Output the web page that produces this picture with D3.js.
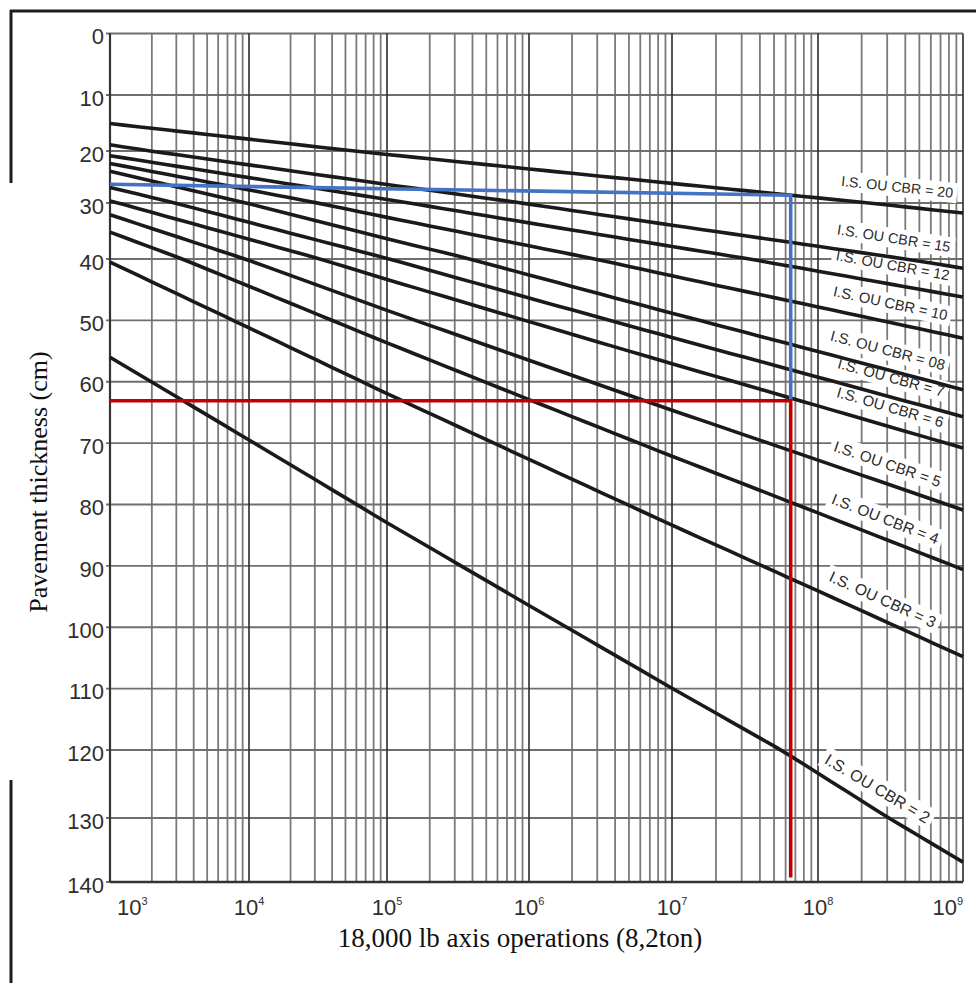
<!DOCTYPE html>
<html>
<head>
<meta charset="utf-8">
<script src="https://cdn.jsdelivr.net/npm/d3@7"></script>
<style>
  html, body { margin: 0; padding: 0; background: #fff; }
  svg { display: block; }
</style>
</head>
<body>
<svg id="chart" width="976" height="983"></svg>
<script>
// ---- data -------------------------------------------------------------
// Subgrade bearing value (I.S. / CBR) for each design curve
const cbrLabels = ["20", "15", "12", "10", "08", "7", "6", "5", "4", "3", "2"];
// Required pavement thickness (cm) at 10^3 and at 10^9 axle operations
const thicknessAtStart = [15.1, 18.9, 20.9, 22.4, 23.9, 27.0, 29.6, 32.1, 35.2, 40.5, 56.0];
const thicknessAtEnd   = [31.8, 41.5, 46.2, 52.9, 61.3, 65.7, 70.8, 80.9, 90.6, 104.8, 136.9];
const trafficDomain = [1e3, 1e9];
const xDecadeExponents = [3, 4, 5, 6, 7, 8, 9];
const yTickValues = [0, 10, 20, 30, 40, 50, 60, 70, 80, 90, 100, 110, 120, 130, 140];

// Worked example: design traffic and the two read-off thicknesses
const designTraffic = 6.5e7;
const blueReadOff = [26.4, 28.5];   // thickness at 10^3 and at design traffic
const redReadOff  = [63.1, 63.1];

// ---- layout -----------------------------------------------------------
const svg = d3.select("#chart");
const P = { left: 110, right: 963, top: 33.5, bottom: 882 };

// the printed rulings are not perfectly even; the scales follow them decade by decade
const x = d3.scaleLog()
  .domain(xDecadeExponents.map(e => Math.pow(10, e)))
  .range([P.left, 249, 387, 529, 672, 818, P.right]);
const y = d3.scaleLinear()
  .domain([0, 10, 20, 30, 40, 120, 130, 140])
  .range([P.top, 95, 151, 203, 259, 750, 818, P.bottom]);

// outer frame fragments
const frame = svg.append("g").attr("stroke", "#1e1e1e").attr("stroke-width", 3);
frame.append("line").attr("x1", 10).attr("y1", 11).attr("x2", 976).attr("y2", 11);
frame.append("line").attr("x1", 11).attr("y1", 10).attr("x2", 11).attr("y2", 183);
frame.append("line").attr("x1", 11).attr("y1", 780).attr("x2", 11).attr("y2", 983);

// ---- grid -------------------------------------------------------------
const grid = svg.append("g");
const minorVals = [];
for (let e = 3; e < 9; e++) for (let m = 2; m <= 9; m++) minorVals.push(m * Math.pow(10, e));
grid.selectAll("line.minor").data(minorVals).join("line")
  .attr("class", "minor")
  .attr("x1", d => x(d)).attr("x2", d => x(d))
  .attr("y1", P.top).attr("y2", P.bottom)
  .attr("stroke", "#7a7a7a").attr("stroke-width", 1.8);
grid.selectAll("line.hz").data(yTickValues).join("line")
  .attr("class", "hz")
  .attr("x1", P.left - 4).attr("x2", P.right)
  .attr("y1", d => y(d)).attr("y2", d => y(d))
  .attr("stroke", "#6f6f6f").attr("stroke-width", 1.8);
grid.selectAll("line.major").data(xDecadeExponents.map(e => Math.pow(10, e))).join("line")
  .attr("class", "major")
  .attr("x1", d => x(d)).attr("x2", d => x(d))
  .attr("y1", P.top).attr("y2", P.bottom)
  .attr("stroke", "#2a2a2a").attr("stroke-width", 1.6);
// plot edges
grid.append("line").attr("x1", P.left).attr("x2", P.left).attr("y1", P.top).attr("y2", P.bottom)
  .attr("stroke", "#333").attr("stroke-width", 2.2);
grid.append("line").attr("x1", P.left).attr("x2", P.right).attr("y1", P.bottom).attr("y2", P.bottom)
  .attr("stroke", "#333").attr("stroke-width", 2.4);

// ---- curve geometry ---------------------------------------------------
const curves = cbrLabels.map((lab, i) => ({
  label: lab, t0: thicknessAtStart[i], t1: thicknessAtEnd[i]
}));
const lx = d3.scaleLog().domain(trafficDomain).range([0, 1]);
const valueAt = (c, n) => c.t0 + (c.t1 - c.t0) * lx(n);

// labels sit on white patches just above the right end of each curve
const labelLayer = svg.append("g");
const textLayer = svg.append("g");
const sizeByAngle = d3.scaleLinear().domain([6, 31]).range([14.2, 16.2]).clamp(true);
curves.forEach(c => {
  const pxA = P.right - 60, pxB = P.right;
  const ang = Math.atan2(y(valueAt(c, x.invert(pxB))) - y(valueAt(c, x.invert(pxA))), pxB - pxA) * 180 / Math.PI;
  const rad = ang * Math.PI / 180;
  const fs = sizeByAngle(ang);
  const g = textLayer.append("g");
  const t = g.append("text")
    .attr("text-anchor", "middle").attr("dy", "0.35em")
    .attr("font-family", "Arial, 'Liberation Sans', sans-serif")
    .attr("font-size", fs).attr("fill", "#2b2b2b")
    .text(`I.S. OU CBR = ${c.label}`);
  const bb = t.node().getBBox();
  // right end of the label drifts left as the curve steepens
  const rightEnd = 959 - 1.15 * ang;
  const half = bb.width / 2 * Math.cos(rad) + bb.height / 2 * Math.sin(rad);
  const px = rightEnd - half;
  const py = y(valueAt(c, x.invert(px)));
  const off = 19;
  const cx = px + off * Math.sin(rad), cy = py - off * Math.cos(rad);
  g.attr("transform", `translate(${cx},${cy}) rotate(${ang})`);
  labelLayer.append("rect")
    .attr("transform", `translate(${cx},${cy}) rotate(${ang})`)
    .attr("x", bb.x - 4).attr("y", bb.y - 2)
    .attr("width", bb.width + 8).attr("height", bb.height + 4)
    .attr("fill", "#fff");
});

// design curves
const curveLayer = svg.append("g");
curveLayer.selectAll("path").data(curves).join("path")
  .attr("d", d => d3.line()(d3.range(0, 61).map(k => {
    const n = Math.pow(10, 3 + k / 10);
    return [x(n), y(valueAt(d, n))];
  })))
  .attr("fill", "none")
  .attr("stroke", "#1a1a1a").attr("stroke-width", 3.6);
textLayer.raise();

// ---- worked example ---------------------------------------------------
const line = d3.line().x(d => x(d[0])).y(d => y(d[1]));
svg.append("path")
  .attr("d", line([[trafficDomain[0], blueReadOff[0]], [designTraffic, blueReadOff[1]], [designTraffic, redReadOff[1]]]))
  .attr("fill", "none").attr("stroke", "#4472c4").attr("stroke-width", 3.6);
svg.append("path")
  .attr("d", line([[trafficDomain[0], redReadOff[0]], [designTraffic, redReadOff[1]], [designTraffic, 139.3]]))
  .attr("fill", "none").attr("stroke", "#c00000").attr("stroke-width", 3.6);

// ---- axes labels ------------------------------------------------------
const tickFont = "Arial, 'Liberation Sans', sans-serif";
svg.append("g").selectAll("text").data(yTickValues).join("text")
  .attr("x", P.left - 6).attr("y", d => y(d) + 3)
  .attr("text-anchor", "end").attr("dy", "0.35em")
  .attr("font-family", tickFont).attr("font-size", 22).attr("fill", "#2f2f2f")
  .text(d => d);

svg.append("g").selectAll("text").data(xDecadeExponents).join("text")
  .attr("y", 915)
  .attr("font-family", tickFont).attr("font-size", 22).attr("fill", "#2f2f2f")
  .each(function (e) {
    const t = d3.select(this);
    t.append("tspan").text("10");
    t.append("tspan").attr("font-size", 11).attr("dy", -10).text(e);
    const w = this.getComputedTextLength();
    let left = x(Math.pow(10, e)) - w / 2;
    left = Math.max(P.left + 7, Math.min(P.right - w, left));
    t.attr("x", left);
  });

svg.append("text")
  .attr("transform", `translate(38,482) rotate(-90)`)
  .attr("text-anchor", "middle").attr("dy", "0.35em")
  .attr("font-family", "'Liberation Serif', 'Times New Roman', serif")
  .attr("font-size", 26).attr("fill", "#111")
  .text("Pavement thickness (cm)");
svg.append("text")
  .attr("x", 520).attr("y", 947)
  .attr("text-anchor", "middle")
  .attr("font-family", "'Liberation Serif', 'Times New Roman', serif")
  .attr("font-size", 27).attr("fill", "#111")
  .text("18,000 lb axis operations (8,2ton)");
</script>
</body>
</html>
